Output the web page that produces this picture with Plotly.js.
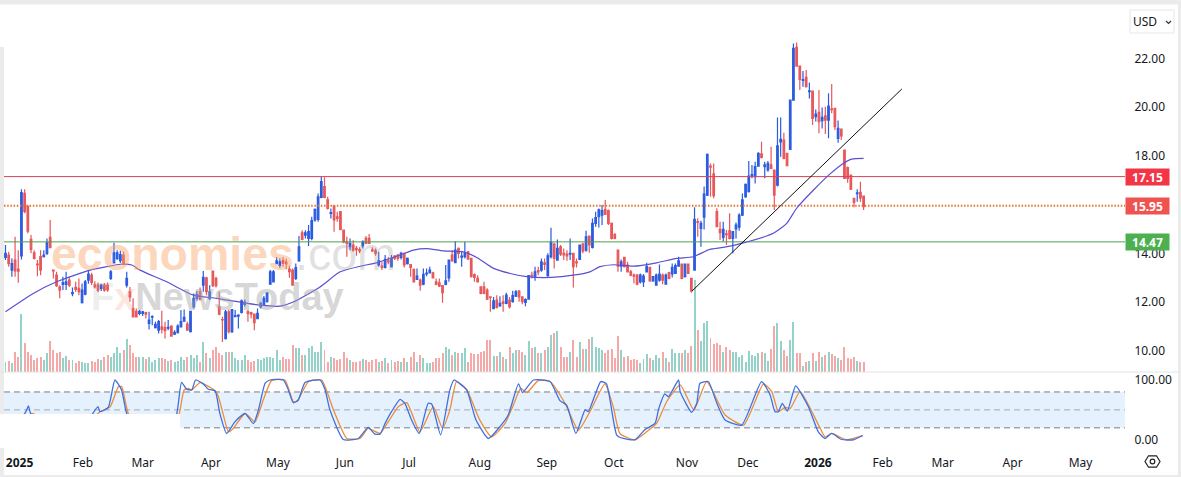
<!DOCTYPE html>
<html><head><meta charset="utf-8">
<script src="https://cdn.plot.ly/plotly-3.0.1.min.js"></script>
<style>html,body{margin:0;padding:0;background:#fff;overflow:hidden}#c{width:1181px;height:477px}</style>
</head><body><div id="c"></div>
<script>
const opens=[13.83,13.93,13.31,13.72,13.35,13.89,16.46,15.94,14.57,14.02,
13.56,13.86,13.86,14.00,14.65,13.31,13.10,12.62,12.72,12.72,
12.90,12.34,12.60,12.56,11.97,12.32,12.90,13.10,12.70,12.69,
12.56,12.69,12.69,12.97,13.61,13.79,13.70,13.93,12.69,12.42,
11.73,11.62,11.53,11.53,11.56,11.12,11.38,10.95,10.84,10.98,
10.95,10.93,11.01,10.68,10.74,10.98,11.21,11.09,10.78,11.80,
12.15,12.42,12.69,12.99,12.15,13.27,12.97,11.80,11.28,10.50,
11.60,10.78,11.40,11.42,11.57,11.90,11.60,11.56,11.50,11.32,
11.80,11.90,12.01,12.73,12.83,13.58,13.50,13.70,13.64,13.35,
13.31,12.97,13.69,14.84,14.75,14.61,14.61,15.37,15.39,16.30,
16.74,16.19,15.64,15.94,15.50,15.71,14.95,14.47,14.27,14.34,
14.20,14.15,14.30,14.61,14.61,14.14,14.10,13.52,13.47,13.42,
13.69,13.45,13.89,13.93,13.83,14.00,13.58,13.54,13.34,12.93,
12.90,12.73,13.15,13.20,13.20,12.83,12.79,12.67,12.72,12.99,
13.93,13.62,14.20,13.84,13.86,14.06,13.79,13.13,12.97,12.62,
12.62,12.49,12.21,11.73,12.08,11.84,12.01,11.94,12.08,12.01,
12.24,12.45,12.21,11.98,12.12,13.10,13.04,13.29,13.31,13.61,
13.08,13.86,14.38,13.72,14.27,14.00,13.97,13.96,14.00,13.65,
13.75,14.38,14.13,14.71,14.24,15.23,15.50,15.57,15.80,15.75,
15.23,14.78,14.13,13.47,13.83,13.52,13.24,13.10,13.10,12.83,
12.83,13.24,13.42,12.87,12.69,12.90,13.10,12.73,13.21,13.15,
13.17,13.47,13.56,13.04,13.56,12.97,13.31,15.30,15.02,15.48,
16.39,17.58,17.26,15.71,14.98,14.65,14.80,14.93,14.61,15.00,
15.07,15.57,16.32,16.53,17.19,17.15,17.58,18.08,17.56,17.42,
17.63,17.42,16.80,18.57,18.65,18.10,18.27,20.29,22.46,21.69,
21.10,21.23,20.64,20.66,19.61,19.79,19.45,19.64,19.47,19.93,
19.95,18.72,19.10,18.24,17.52,17.21,16.26,16.45,16.50,16.35];
const highs=[14.34,14.06,13.79,14.68,14.13,16.63,16.63,15.94,14.75,14.13,
13.72,14.13,14.13,14.61,15.37,13.31,13.24,12.69,13.04,13.24,
13.04,12.60,12.83,12.97,12.76,12.90,13.30,13.20,12.85,12.80,
12.75,12.78,12.80,13.31,14.43,14.13,14.10,14.06,13.24,12.62,
12.15,11.73,11.67,11.64,11.60,11.60,11.46,11.19,11.26,11.64,
11.19,11.26,11.05,10.84,11.09,11.67,11.69,11.19,11.64,12.35,
12.45,12.60,13.27,13.04,12.69,13.27,13.04,12.42,11.39,11.67,
11.69,11.69,11.67,11.50,12.10,12.10,11.67,11.60,11.53,11.73,
12.01,12.25,12.40,13.31,13.31,13.85,13.80,13.85,13.78,13.50,
13.38,13.58,14.71,14.95,14.95,15.16,15.50,15.84,16.46,17.15,
17.12,16.32,15.84,15.98,15.71,15.71,14.98,14.68,14.61,14.54,
14.30,14.25,14.54,14.71,14.79,14.25,14.20,14.06,13.65,13.93,
13.85,13.93,13.93,13.97,14.06,14.00,13.83,13.54,13.38,13.38,
12.97,13.38,13.38,13.45,13.24,12.97,12.97,12.69,13.52,13.75,
14.13,14.50,14.24,14.06,14.47,14.09,13.82,13.17,13.10,12.65,
12.83,12.56,12.21,12.21,12.28,12.24,12.28,12.38,12.21,12.46,
12.49,12.49,12.24,12.15,13.09,13.24,13.45,13.45,13.79,13.79,
14.00,15.05,14.43,14.57,14.34,14.20,14.13,14.61,14.02,13.79,
14.34,14.43,14.93,14.73,15.43,15.71,15.84,15.98,16.19,15.80,
15.26,14.82,14.16,13.75,13.86,13.65,13.31,13.17,13.15,13.17,
13.15,13.61,13.45,13.06,13.17,13.54,13.17,13.17,13.24,13.58,
13.58,13.86,13.58,13.58,13.58,12.97,15.89,15.44,15.34,16.74,
18.10,17.69,17.69,15.85,15.30,15.30,14.96,15.64,14.89,15.26,
15.64,16.46,16.87,17.79,17.63,17.76,18.15,18.58,17.76,17.79,
18.38,17.42,19.58,19.58,18.95,18.13,20.32,22.62,22.66,21.69,
21.49,21.53,21.01,20.66,19.91,20.71,19.99,20.02,20.57,20.95,
19.98,19.45,19.13,18.24,17.56,17.24,16.26,16.63,16.94,16.35];
const lows=[13.72,13.45,13.04,13.04,12.79,13.75,15.64,14.82,14.00,13.75,
13.06,13.10,13.83,13.93,14.20,12.97,12.62,12.15,12.49,12.49,
12.62,12.24,12.42,12.28,11.94,12.28,12.75,12.70,12.55,12.40,
12.45,12.42,12.42,12.90,13.58,13.72,13.60,13.52,12.60,12.01,
11.39,11.37,11.46,11.42,11.32,10.87,11.05,10.91,10.71,10.71,
10.50,10.84,10.57,10.64,10.71,10.95,11.19,10.82,10.75,11.73,
12.05,12.10,12.42,12.28,12.08,12.62,12.60,11.46,10.36,10.46,
10.71,10.73,11.39,10.91,11.53,11.80,11.19,11.32,10.84,11.30,
11.73,11.85,11.98,12.73,12.80,13.55,13.40,13.45,13.35,13.00,
12.69,12.90,13.65,14.54,14.61,14.30,14.54,15.30,15.30,16.26,
16.26,15.80,15.43,14.89,15.30,14.95,14.41,13.86,14.13,14.06,
13.90,14.00,14.20,14.38,14.38,14.05,13.90,13.45,13.31,13.38,
13.55,13.42,13.72,13.69,13.75,13.42,13.54,13.04,12.80,12.90,
12.46,12.69,13.06,13.17,12.97,12.69,12.62,11.97,12.69,12.83,
13.65,13.61,13.79,13.45,13.79,13.75,13.01,12.83,12.80,12.32,
12.32,12.08,11.60,11.71,11.73,11.80,11.60,11.91,11.73,11.97,
12.21,12.01,11.91,11.83,12.10,12.97,12.87,13.10,13.24,13.31,
13.04,13.79,13.38,13.69,13.89,13.72,13.69,13.72,12.60,13.42,
13.72,14.00,14.06,14.02,14.20,15.09,15.06,15.16,15.57,15.16,
14.57,14.58,13.24,13.24,13.42,13.22,13.06,12.76,12.69,12.76,
12.62,13.22,12.83,12.83,12.67,12.83,12.73,12.73,12.93,13.01,
13.15,13.45,12.93,13.01,13.15,12.38,13.29,14.68,14.27,14.98,
16.35,16.32,16.26,15.07,14.55,14.48,14.34,14.57,14.00,14.61,
14.93,15.53,16.28,16.50,17.08,16.87,17.56,17.90,17.08,17.35,
17.46,15.78,16.74,17.97,17.86,17.58,18.24,20.27,21.66,20.71,
20.84,20.81,20.36,19.27,19.41,18.93,19.13,18.90,18.72,19.75,
19.06,18.54,18.65,17.05,16.90,16.60,15.89,16.12,16.12,15.78];
const closes=[14.00,13.58,13.58,13.28,13.27,16.49,15.71,14.91,14.16,13.79,
13.52,13.31,13.93,14.43,14.24,13.28,12.67,12.49,12.80,12.83,
12.69,12.39,12.52,12.42,12.49,12.83,13.15,12.80,12.62,12.49,
12.69,12.49,12.50,13.24,14.02,14.02,13.95,13.58,12.97,12.21,
11.39,11.39,11.62,11.60,11.50,11.26,11.40,11.08,11.19,10.87,
10.82,10.96,10.60,10.75,11.01,11.19,11.37,10.84,11.62,12.15,
12.30,12.10,13.01,12.42,12.42,12.67,12.67,11.50,11.26,11.60,
10.78,11.69,11.44,11.46,12.05,12.00,11.53,11.50,11.15,11.53,
11.94,12.15,12.38,13.24,13.24,13.69,13.65,13.60,13.56,13.25,
12.69,13.41,14.27,14.57,14.84,14.89,15.34,15.80,16.32,16.94,
16.30,15.84,15.67,15.37,15.43,14.98,14.47,14.41,14.41,14.13,
14.15,14.10,14.47,14.41,14.41,14.10,14.00,13.69,13.42,13.75,
13.65,13.79,13.79,13.79,14.00,13.52,13.79,13.42,12.83,13.06,
12.69,13.14,13.19,13.31,12.99,12.72,12.65,12.38,12.87,13.72,
13.69,14.13,14.00,13.88,14.00,13.76,13.04,13.01,12.83,12.35,
12.35,12.12,12.19,12.05,11.78,11.94,11.94,12.28,11.80,12.26,
12.42,12.21,12.01,12.10,13.08,13.06,13.24,13.24,13.65,13.54,
13.90,14.46,13.79,14.20,13.97,13.93,13.89,14.00,13.45,13.61,
14.34,14.10,14.68,14.35,15.23,15.47,15.78,15.75,15.60,15.23,
14.61,14.61,13.47,13.65,13.45,13.24,13.10,13.06,12.73,13.10,
13.06,13.45,12.87,13.04,13.10,13.15,12.90,13.10,12.97,13.42,
13.49,13.69,12.97,13.56,13.17,12.46,15.39,15.27,15.23,16.43,
18.06,17.54,16.37,15.09,14.85,14.98,14.77,14.61,14.89,15.16,
15.57,16.19,16.83,17.17,17.23,17.56,18.10,17.93,17.63,17.69,
17.49,16.39,18.41,18.68,17.90,17.60,20.29,22.42,21.69,21.14,
21.13,20.84,20.67,19.54,19.72,19.41,19.58,19.47,20.05,19.90,
19.20,19.13,18.82,17.08,17.08,16.63,16.09,16.48,16.28,15.92];
const volumes=[3.1,3.4,2.8,6.1,4.6,17.4,8.6,6.1,5.1,3.6,
4.1,4.4,3.6,5.6,9.3,6.6,5.6,6.1,4.1,4.8,
3.6,3.6,2.8,3.4,3.1,2.8,2.6,3.4,3.1,3.8,
3.6,4.6,5.1,4.6,5.6,7.4,5.6,6.5,9.9,8.1,
5.8,4.6,4.6,4.4,3.8,4.6,3.1,3.6,4.1,4.1,
3.8,3.4,3.6,3.1,3.4,4.6,3.6,4.6,5.1,4.1,
5.1,3.1,8.9,5.6,4.1,6.6,7.6,5.6,5.1,5.9,
6.1,6.1,4.1,3.6,3.6,5.1,3.6,3.1,3.4,3.8,
3.6,4.1,4.6,4.6,4.1,6.6,3.6,4.6,3.8,3.8,
8.1,7.3,7.1,5.1,5.1,7.1,7.9,6.1,6.1,8.9,
6.6,3.1,4.6,4.1,3.6,3.8,6.1,4.1,3.6,3.1,
3.1,3.4,3.8,3.6,3.1,3.6,3.8,3.1,3.4,4.1,
2.8,3.6,3.1,3.4,3.1,4.1,3.1,4.6,6.0,3.1,
5.0,4.1,2.6,2.8,3.1,4.1,4.1,5.6,7.4,6.8,
5.1,6.1,5.8,5.6,7.1,3.1,5.6,5.4,5.4,6.1,
6.4,9.6,9.6,4.8,4.8,6.1,4.6,3.8,7.6,5.8,
6.6,6.6,6.1,5.1,9.3,7.1,7.6,5.6,5.6,6.6,
7.6,11.1,11.8,12.3,7.6,4.6,4.6,6.1,9.6,4.6,
8.9,6.9,6.9,9.9,10.4,7.6,7.1,6.6,5.6,6.6,
6.9,4.1,10.8,6.6,4.6,4.8,3.6,3.9,3.6,2.6,
3.8,5.4,4.1,3.6,5.1,4.1,6.1,4.1,3.1,6.8,
5.8,5.6,5.6,6.6,5.8,7.8,27.6,12.6,9.3,14.8,
15.4,10.1,8.4,8.6,8.1,6.1,7.4,6.6,6.1,6.1,
4.6,5.1,3.1,6.3,5.1,4.9,5.8,6.1,5.6,3.3,
6.8,13.8,14.6,9.3,6.6,4.8,9.6,15.0,5.8,5.8,
1.8,3.1,3.4,5.6,3.3,6.1,4.4,5.1,5.9,5.3,
4.8,4.1,3.6,7.6,4.1,3.8,4.4,3.4,2.9,3.1];
const maIdx=[0,8.7,16,26.5,31.7,36,39.6,42.2,50.5,58.9,66.2,79.8,86,90.2,98.6,104.9,111.2,116.3,123.7,127.9,132,137.2,143.5,147.7,153,158.2,163.4,171,178,183.2,186.4,190.6,196.8,204.1,210.4,215.6,220.8,225,230.8,240.7,244.9,248,253.3,258.5,262.6,265.3,269];
const maVal=[11.6,12.35,12.83,13.31,13.45,13.55,13.52,13.31,12.83,12.28,12.15,11.87,11.83,12.0,12.62,13.24,13.47,13.61,13.93,14.13,14.19,14.10,14.06,13.83,13.38,13.17,13.04,13.01,13.10,13.24,13.45,13.53,13.47,13.61,13.79,13.86,14.16,14.24,14.41,14.82,15.23,15.85,16.6,17.26,17.69,17.87,17.90];
const kIdx=[0,5.5,6.4,7.2,7.9,14,19,25,29,29.6,32.2,34.3,36.4,38,42.2,47.4,51.6,53.7,55.2,56.8,58.4,59.6,62,63.6,65.7,67.2,69.3,71.9,75.1,77.7,79.3,81.4,82.9,87.1,88.7,90.2,91.8,93.9,98.6,100.2,101.7,105.9,110.6,113.7,115.8,117.4,119,121,123.7,125.2,127.3,129.7,132.5,133.6,136.4,139.3,140.6,142.5,144.6,147.5,151.4,155,157.6,160.8,162.1,165.5,170.7,173.8,175.9,178.8,181.7,182.7,184.8,186.6,188.4,191.6,193.7,197.3,200.5,203.6,204.8,206.7,207.8,211,211.5,215.1,216.7,217.7,220.3,223,225.6,230.8,237,239.7,241.2,242.3,243.5,245.1,247.7,251.7,254.8,256.9,259,262.1,265.8,268.7];
const kVal=[28,40,47,56.5,44,22,13,27,55.4,47,54,100,83,44,10.6,5,22,44,96,84.5,83.4,100,93.5,84.5,82,44,10.6,30,44,27,50,94.6,100,100,83,62,66.6,95.7,100,83.4,50,0.5,2.2,20.7,9.5,9.5,27.4,47,67.7,61,33,10.6,61,60,8,83.4,100,93.5,83.4,33,2.2,22,41.4,93.5,79,100,97.4,65.5,58,10.6,50,47,75,97.4,93.5,8,2.2,0,17.3,27.4,52.6,76.7,72,100,80.6,46,61,94.6,97.4,61,33,24.6,97.4,75,47,47,61,48,90,55.4,13.4,2.2,10.6,0.5,0,7.2];
const dIdx=[0,7.4,8.6,14,19,25,29.6,32.8,35.4,36.4,38.5,43.2,48.4,52.6,54.5,56,57.3,58.4,61,66.2,69.9,71.4,75.1,78.2,80.8,83.4,87.6,90.2,91.3,95,99.1,102.8,107,111.1,113.7,117.4,120,123.1,125.8,129.9,134.1,137,139.3,141.4,144.6,148.7,152.4,156.6,159.2,161.5,163.4,167,170.7,175.4,179.6,183.2,187.9,190.5,192.6,197.3,201,204.1,207.3,211.5,215.8,219.8,225.6,231.4,237.6,240.2,242.3,244.4,246,249.1,255.4,256.9,259,263.7,268.7];
const dVal=[26,40,44,19,10,25,47,55,89,89,44,10.6,5,22,44,83.4,86,83.4,95.7,79,13.4,19,44,30,66.6,99,100,64,64,97.4,100,50,2.2,2.2,19,10.6,30,55.4,62,13.4,55.4,19,50,97.4,83.4,33,5,27.4,58,86,79,99,97.4,61,16,47,93.5,55.4,10.6,0,13.4,27.4,64,92,50,97.4,41.4,24.6,93.5,80.6,47,54,52.6,80.6,19,5,10.6,0,6.8];
const trendIdx=[215.2,281];
const trendVal=[12.45,20.75];
const levelValues=[17.15,15.95,14.47];
const levelLabels=["17.15","15.95","14.47"];
const tickIdx=[4.4,24.3,43,64.4,85.4,106.4,126.5,148.7,169.7,190.7,213.6,232.7,254.7,275,293.8,315.7,337];
const tickText=["<b>2025</b>","Feb","Mar","Apr","May","Jun","Jul","Aug","Sep","Oct","Nov","Dec","<b>2026</b>","Feb","Mar","Apr","May"];
const priceTicks=[22,20,18,14,12,10];
const idx=opens.map((_,i)=>i);

const W=1181,H=477,L=4,R=1125,T=4,B=450,SPLIT=373;
const px=x=>(x-L)/(R-L), py=y=>(B-y)/(B-T);
const xMin=-0.47, xMax=xMin+(R-L)/3.19;
const FONT='"Noto Sans",sans-serif', TXT='#131722', WM='"Liberation Sans",sans-serif';
const BLUE='#2b5ce0', RED='#e8575a';
const xr=[xMin,xMax];

const traces=[
 {type:'bar',x:idx,y:volumes,yaxis:'y',marker:{color:idx.map(i=>closes[i]>=opens[i]?'#93d2c9':'#f4a9a8'),line:{width:0}},width:0.62,hoverinfo:'skip',showlegend:false},
 {type:'scatter',mode:'lines',x:xr,y:[levelValues[0],levelValues[0]],yaxis:'y2',line:{color:'#d8405a',width:1},hoverinfo:'skip',showlegend:false},
 {type:'scatter',mode:'lines',x:xr,y:[levelValues[1],levelValues[1]],yaxis:'y2',line:{color:'#e8702a',width:2,dash:'1.5px,1.7px'},hoverinfo:'skip',showlegend:false},
 {type:'scatter',mode:'lines',x:xr,y:[levelValues[2],levelValues[2]],yaxis:'y2',line:{color:'#4f9f4f',width:1},hoverinfo:'skip',showlegend:false},
 {type:'scatter',mode:'lines',x:maIdx,y:maVal,yaxis:'y2',line:{color:'#5a50d2',width:1.2,shape:'spline',smoothing:0.6},hoverinfo:'skip',showlegend:false},
 {type:'candlestick',x:idx,open:opens,high:highs,low:lows,close:closes,yaxis:'y2',whiskerwidth:0,
  increasing:{line:{color:BLUE,width:1.2},fillcolor:BLUE},decreasing:{line:{color:RED,width:1.2},fillcolor:RED},hoverinfo:'skip',showlegend:false},
 {type:'scatter',mode:'lines',x:trendIdx,y:trendVal,yaxis:'y2',line:{color:'#111',width:1},hoverinfo:'skip',showlegend:false},
 {type:'scatter',mode:'lines',x:xr,y:[80,80],yaxis:'y3',line:{color:'#787b86',width:1,dash:'6px,4px'},hoverinfo:'skip',showlegend:false},
 {type:'scatter',mode:'lines',x:xr,y:[50,50],yaxis:'y3',line:{color:'#a5a8b2',width:1,dash:'6px,4px'},hoverinfo:'skip',showlegend:false},
 {type:'scatter',mode:'lines',x:xr,y:[20,20],yaxis:'y3',line:{color:'#787b86',width:1,dash:'6px,4px'},hoverinfo:'skip',showlegend:false},
 {type:'scatter',mode:'lines',x:dIdx,y:dVal,yaxis:'y3',line:{color:'#ee8b3a',width:1.3,shape:'spline',smoothing:0.5},hoverinfo:'skip',showlegend:false},
 {type:'scatter',mode:'lines',x:kIdx,y:kVal,yaxis:'y3',line:{color:'#3f6fe0',width:1.3,shape:'spline',smoothing:0.5},hoverinfo:'skip',showlegend:false}
];

const GRAY='#ebebeb';
const rect=(x0,y0,x1,y1,col)=>({type:'rect',xref:'paper',yref:'paper',x0:px(x0),x1:px(x1),y0:py(y1),y1:py(y0),fillcolor:col,line:{width:0},layer:'above'});
const hex=[[1145,461.5],[1148.5,455.8],[1156.5,455.8],[1160,461.5],[1156.5,467.2],[1148.5,467.2]].map(p=>px(p[0])+' '+py(p[1]));
const shapes=[
 {type:'rect',xref:'paper',yref:'y3',x0:0,x1:1,y0:20,y1:80,fillcolor:'#e5f2fd',line:{width:0},layer:'below'},
 rect(0,414,180,448,'#ffffff'),
 rect(0,0,W,4.5,GRAY),
 rect(0,47,4,414,GRAY),
 rect(0,448,4,477,GRAY),
 rect(1178,0,W,477,GRAY),
 rect(0,475,W,477,GRAY),
 rect(0,371.6,1178,372.6,'#e3e3e3'),
 {type:'rect',xref:'paper',yref:'paper',x0:px(1130),x1:px(1174),y0:py(33),y1:py(10),line:{color:'#e6e6e6',width:1},fillcolor:'#fff',layer:'above'},
 {type:'path',xref:'paper',yref:'paper',path:'M '+px(1166)+' '+py(21)+' L '+px(1168.5)+' '+py(23.5)+' L '+px(1171)+' '+py(21),line:{color:'#333',width:1.2},layer:'above'},
 {type:'path',xref:'paper',yref:'paper',path:'M '+hex.join(' L ')+' Z',line:{color:'#222',width:1.2},layer:'above'},
 {type:'circle',xref:'paper',yref:'paper',x0:px(1150.2),x1:px(1154.8),y0:py(463.8),y1:py(459.2),line:{color:'#222',width:1.2},layer:'above'}
];

const labelColors=['#f23645','#ef5350','#4caf50'];
const annotations=levelValues.map((v,k)=>({xref:'paper',yref:'y2',x:px(1147.5),y:v,text:'<b>'+levelLabels[k]+'</b>',showarrow:false,
  font:{family:FONT,size:12,color:'#fff'},bgcolor:labelColors[k],width:43,height:16,borderpad:0,xanchor:'center',yanchor:'middle'}));
annotations.push(
 {xref:'paper',yref:'paper',x:px(1131),y:py(21.5),xanchor:'left',yanchor:'middle',text:'USD',showarrow:false,font:{family:FONT,size:12,color:TXT}},
 {xref:'paper',yref:'paper',x:px(49),y:py(254),xanchor:'left',yanchor:'middle',showarrow:false,text:'<b>economies</b>',font:{family:WM,size:46.5,color:'rgba(249,165,105,0.45)'}},
 {xref:'paper',yref:'paper',x:px(293),y:py(254),xanchor:'left',yanchor:'middle',showarrow:false,text:'.com',font:{family:WM,size:46.5,color:'rgba(150,150,150,0.3)'}},
 {xref:'paper',yref:'paper',x:px(89),y:py(297),xanchor:'left',yanchor:'middle',showarrow:false,text:'<b><span style="color:rgba(165,165,165,0.45)">F</span><span style="color:rgba(235,150,110,0.5)">x</span>NewsToday</b>',font:{family:WM,size:38,color:'rgba(165,165,165,0.45)'}}
);

const axisCommon={showgrid:false,zeroline:false,showline:false,ticks:'outside',ticklen:6,tickcolor:'rgba(0,0,0,0)',tickfont:{family:FONT,size:12,color:TXT}};
const splitFrac=(B-SPLIT)/(B-T);
const layout={
 width:W,height:H,margin:{l:L,r:W-R,t:T,b:H-B,pad:0},paper_bgcolor:'#fff',plot_bgcolor:'rgba(0,0,0,0)',showlegend:false,bargap:0,hovermode:false,
 xaxis:{domain:[0,1],range:xr,anchor:'y3',showgrid:false,zeroline:false,showline:false,ticks:'outside',ticklen:2,tickcolor:'rgba(0,0,0,0)',tickmode:'array',tickvals:tickIdx,ticktext:tickText,tickangle:0,tickfont:{family:FONT,size:12,color:TXT},rangeslider:{visible:false}},
 yaxis:{domain:[splitFrac,1],range:[-0.3,110.5],visible:false,anchor:'x',fixedrange:true},
 yaxis2:Object.assign({overlaying:'y',side:'right',anchor:'x',range:[22-(SPLIT-58.5)/24.35,22+(58.5-T)/24.35],tickmode:'array',tickvals:priceTicks,ticktext:priceTicks.map(v=>v.toFixed(2))},axisCommon),
 yaxis3:Object.assign({domain:[0,splitFrac],side:'right',anchor:'x',range:[(439.8-B)/0.598,(439.8-SPLIT)/0.598],tickmode:'array',tickvals:[0,100],ticktext:['0.00','100.00']},axisCommon),
 shapes:shapes,annotations:annotations
};
Plotly.newPlot('c',traces,layout,{staticPlot:true,displayModeBar:false});
</script></body></html>
